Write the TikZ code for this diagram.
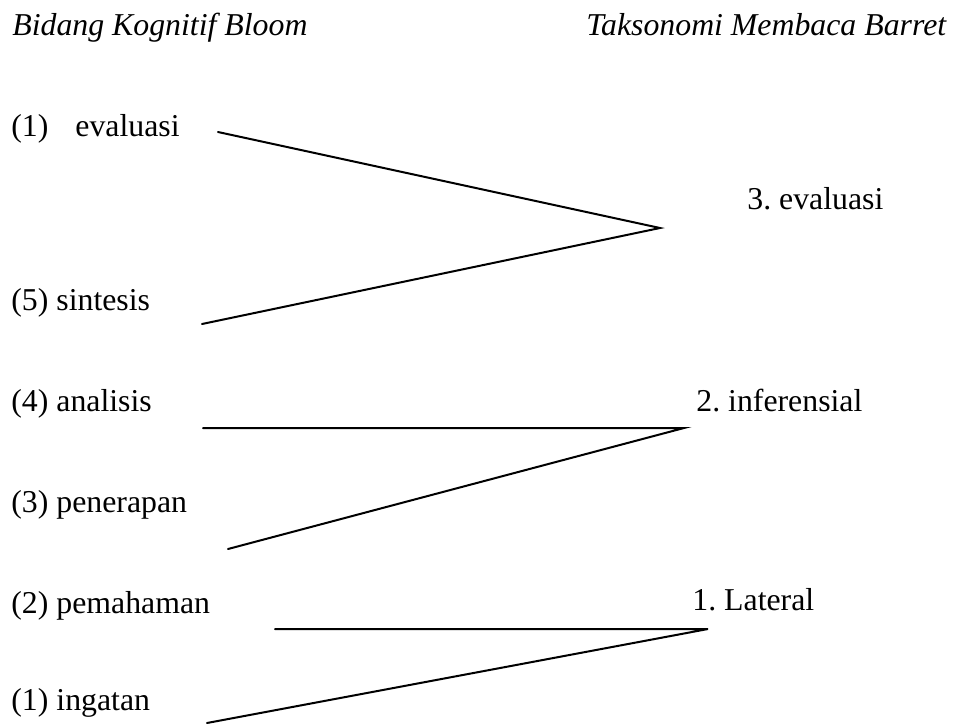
\documentclass[tikz,border=0pt]{standalone}
\usepackage{fontspec}
\setmainfont{Liberation Serif}
\frenchspacing
\begin{document}
\begin{tikzpicture}[x=0.5pt,y=-0.5pt,
  lbl/.style={anchor=base west,inner sep=0pt,font=\fontsize{15.9}{19}\selectfont},
  ttl/.style={lbl,font=\fontsize{15.9}{19}\selectfont\itshape},
  link/.style={draw=black,line width=1pt,line cap=round}]
\useasboundingbox (0,0) rectangle (959,724);

% column headings
\node[ttl] (hbloom)  at (12,35)  {Bidang Kognitif Bloom};
\node[ttl] (hbarret) at (586,35) {Taksonomi Membaca Barret};

% Bloom levels (left)
\node[lbl] (evaluasi)  at (11,136) {(1)\hspace{13.5pt}evaluasi};
\node[lbl] (sintesis)  at (11,310) {(5) sintesis};
\node[lbl] (analisis)  at (11,411) {(4) analisis};
\node[lbl] (penerapan) at (11,512) {(3) penerapan};
\node[lbl] (pemahaman) at (11,613) {(2) pemahaman};
\node[lbl] (ingatan)   at (11,710) {(1) ingatan};

% Barrett levels (right)
\node[lbl] (bevaluasi)    at (747,209) {3. evaluasi};
\node[lbl] (binferensial) at (696,411) {2. inferensial};
\node[lbl] (blateral)     at (692,610) {1. Lateral};

% line ends
\coordinate (evalEnd)  at (218,132);
\coordinate (sintEnd)  at (202,324);
\coordinate (evalTip)  at (660,228);
\coordinate (analEnd)  at (203,428);
\coordinate (penEnd)   at (228,549);
\coordinate (infTip)   at (684,428);
\coordinate (pemEnd)   at (275,629);
\coordinate (ingEnd)   at (207,723);
\coordinate (latTip)   at (708,629);

% connectors
\draw[link] (evalEnd) -- (evalTip) -- (sintEnd);
\draw[link] (analEnd) -- (infTip) -- (penEnd);
\draw[link] (pemEnd) -- (latTip) -- (ingEnd);
\end{tikzpicture}
\end{document}
